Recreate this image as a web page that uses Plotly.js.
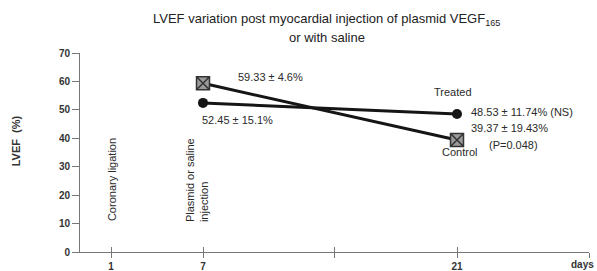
<!DOCTYPE html>
<html>
<head>
<meta charset="utf-8">
<script src="https://cdn.plot.ly/plotly-3.0.1.min.js"></script>
<style>html,body{margin:0;padding:0;background:#fff;}#chart{width:597px;height:271px;}</style>
</head>
<body>
<div id="chart"></div>
<script>
// ---- data ----
const dayLabels = ['1', '7', '21'];
const days = ['7', '21'];
const treated = [52.45, 48.53];
const control = [59.33, 39.37];
const treatedLabel = ['52.45 ± 15.1%', '48.53 ± 11.74% (NS)'];
const controlLabel = ['59.33 ± 4.6%', '39.37 ± 19.43%'];
const yTicks = [0, 10, 20, 30, 40, 50, 60, 70];

// ---- axis layout (non-linear time axis as drawn) ----
const axisPos = {'1': 31, '7': 123, '21': 377};
const midTick = 254, axisEnd = 509;
const xs = days.map(d => axisPos[d]);

const FONT = '"Liberation Sans", Arial, sans-serif';
const txt = '#2a2a2a';

const labeledVals = dayLabels.map(d => axisPos[d]);
const allVals = [axisPos['1'], axisPos['7'], midTick, axisPos['21'], axisEnd];

const traces = [
  {x: xs, y: treated, type: 'scatter', mode: 'lines+markers', name: 'Treated',
   line: {color: '#151515', width: 3},
   marker: {symbol: 'circle', size: 10, color: '#151515'}},
  {x: xs, y: control, type: 'scatter', mode: 'lines+markers', name: 'Control',
   line: {color: '#151515', width: 3},
   marker: {symbol: 'square-x', size: 13, color: '#9a9a9a', line: {color: '#333', width: 1.5}}},
  {x: [0], y: [0], xaxis: 'x2', yaxis: 'y', mode: 'markers', marker: {opacity: 0}, hoverinfo: 'skip', showlegend: false},
  {x: [0], y: [0], xaxis: 'x3', yaxis: 'y', mode: 'markers', marker: {opacity: 0}, hoverinfo: 'skip', showlegend: false}
];

function ann(text, x, y, opts) {
  return Object.assign({text, x, y, xref: 'x', yref: 'y', showarrow: false,
    font: {family: FONT, size: 11, color: txt}}, opts);
}

const annotations = [
  {text: 'LVEF variation post myocardial injection of plasmid VEGF<sub>165</sub>', xref: 'paper', yref: 'paper',
   x: 0.485, y: 1.166, xanchor: 'center', yanchor: 'middle', showarrow: false,
   font: {family: FONT, size: 13, color: '#222'}},
  {text: 'or with saline', xref: 'paper', yref: 'paper',
   x: 0.485, y: 1.080, xanchor: 'center', yanchor: 'middle', showarrow: false,
   font: {family: FONT, size: 13, color: '#222'}},
  {text: '<b>LVEF&nbsp;&nbsp;(%)</b>', xref: 'paper', yref: 'paper', x: -0.125, y: 0.558,
   textangle: -90, showarrow: false, xanchor: 'center', yanchor: 'middle',
   font: {family: FONT, size: 11, color: '#333'}},
  {text: '<b>days</b>', xref: 'paper', yref: 'paper', x: 502 / 509, y: 0, yanchor: 'middle', xanchor: 'center',
   yshift: -12, borderpad: 0, showarrow: false, font: {family: FONT, size: 10, color: '#333'}},
  ann('Coronary ligation', axisPos[dayLabels[0]], 25.3, {textangle: -90, xanchor: 'center', yanchor: 'middle', xshift: 1}),
  ann('Plasmid or saline<br>injection', axisPos[dayLabels[1]], 25.3, {textangle: -90, xanchor: 'center', yanchor: 'middle', xshift: -6, align: 'left'}),
  ann(controlLabel[0], xs[0], control[0], {xanchor: 'left', yanchor: 'middle', xshift: 33, yshift: 6}),
  ann(treatedLabel[0], xs[0], treated[0], {xanchor: 'left', yanchor: 'middle', xshift: -3, yshift: -17}),
  ann('Treated', xs[1], treated[1], {xanchor: 'center', yanchor: 'middle', xshift: -4, yshift: 22}),
  ann(treatedLabel[1], xs[1], treated[1], {xanchor: 'left', yanchor: 'middle', xshift: 12, yshift: 2}),
  ann(controlLabel[1], xs[1], control[1], {xanchor: 'left', yanchor: 'middle', xshift: 12, yshift: 12}),
  ann('(P=0.048)', xs[1], control[1], {xanchor: 'left', yanchor: 'middle', xshift: 30, yshift: -5}),
  ann('Control', xs[1], control[1], {xanchor: 'center', yanchor: 'middle', xshift: 2, yshift: -12})
];

const layout = {
  width: 597, height: 271,
  margin: {l: 80, r: 8, t: 53, b: 19, pad: 0},
  paper_bgcolor: '#fff', plot_bgcolor: '#fff',
  showlegend: false,
  font: {family: FONT, color: txt},
  xaxis: {range: [0, axisEnd], tickmode: 'array', tickvals: labeledVals, ticktext: dayLabels,
    showgrid: false, zeroline: false, showline: true, linecolor: '#777', linewidth: 1,
    ticks: 'outside', ticklen: 5, tickcolor: '#777', tickwidth: 1,
    tickfont: {family: FONT, size: 10, color: '#333', weight: 'bold'}, fixedrange: true},
  xaxis2: {range: [0, axisEnd], overlaying: 'x', anchor: 'y', tickmode: 'array', tickvals: allVals,
    showticklabels: false, showgrid: false, zeroline: false, showline: false,
    ticks: 'inside', ticklen: 5, tickcolor: '#777', tickwidth: 1},
  xaxis3: {range: [0, axisEnd], overlaying: 'x', anchor: 'y', tickmode: 'array', tickvals: [midTick, axisEnd],
    showticklabels: false, showgrid: false, zeroline: false, showline: false,
    ticks: 'outside', ticklen: 5, tickcolor: '#777', tickwidth: 1},
  yaxis: {range: [0, 70], tickmode: 'array', tickvals: yTicks,
    showgrid: false, zeroline: false, showline: true, linecolor: '#777', linewidth: 1,
    ticks: 'outside', ticklen: 7, tickcolor: '#777', tickwidth: 1,
    tickfont: {family: FONT, size: 10, color: '#333', weight: 'bold'}, fixedrange: true},
  annotations
};

Plotly.newPlot('chart', traces, layout, {staticPlot: true, displayModeBar: false});
</script>
</body>
</html>
